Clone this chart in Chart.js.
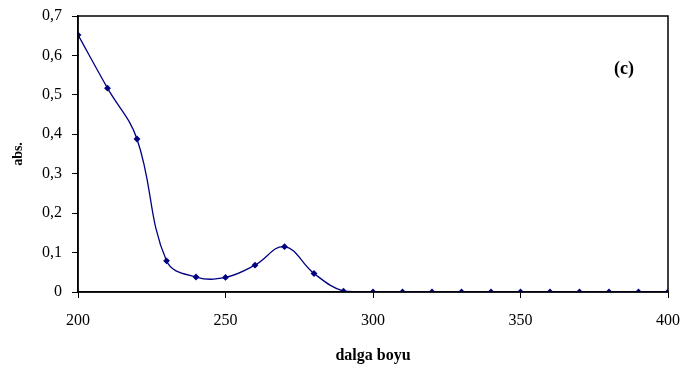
<!DOCTYPE html>
<html><head><meta charset="utf-8">
<script src="https://cdn.jsdelivr.net/npm/chart.js@4/dist/chart.umd.min.js"></script>
<style>html,body{margin:0;padding:0;background:#fff}#wrap{width:686px;height:374px}</style>
</head><body><div id="wrap"><canvas id="c" width="686" height="374"></canvas></div>
<script>
const wavelengths = [200,210,220,230,240,250,260,270,280,290,300,310,320,330,340,350,360,370,380,390,400];
const absValues = [0.652,0.517,0.388,0.079,0.038,0.037,0.068,0.115,0.047,0.002,0,0,0,0,0,0,0,0,0,0,0];
const xTicks = [200,250,300,350,400];
const yTicks = [0,0.1,0.2,0.3,0.4,0.5,0.6,0.7];
const panelLabel = '(c)';

const FONT = '"Liberation Serif","Times New Roman",serif';
const frame = {
  id:'frame',
  afterDraw(chart){
    const {ctx, chartArea:a} = chart;
    ctx.save();
    ctx.strokeStyle='#000'; ctx.lineWidth=1.5;
    ctx.strokeRect(a.left, a.top, a.right-a.left, a.bottom-a.top);
    ctx.fillStyle='#000'; ctx.font='bold 18px '+FONT;
    ctx.textAlign='center'; ctx.textBaseline='middle';
    ctx.fillText(panelLabel, 624, 69);
    ctx.restore();
  }
};
new Chart(document.getElementById('c'), {
  type:'scatter',
  data:{datasets:[{
    data: wavelengths.map((w,i)=>({x:w,y:absValues[i]})),
    showLine:true, borderColor:'#000080', backgroundColor:'#000080',
    borderWidth:1.3, tension:0.4, pointStyle:'rectRot', pointRadius:2.5, pointHoverRadius:2.5
  }]},
  options:{
    responsive:false, animation:false, devicePixelRatio:1,
    layout:{padding:{top:16,right:18,left:0,bottom:0}},
    plugins:{legend:{display:false},tooltip:{enabled:false}},
    scales:{
      x:{type:'linear',min:200,max:400,
        afterBuildTicks(s){s.ticks=xTicks.map(v=>({value:v}));},
        afterFit(s){s.height=82;s.paddingLeft=0;s.paddingRight=0;},
        grid:{drawOnChartArea:false,tickLength:6,color:'#000',lineWidth:1},
        border:{color:'#000',width:1.5},
        ticks:{color:'#000',font:{family:FONT,size:16},padding:13,maxRotation:0},
        title:{display:true,text:'dalga boyu',color:'#000',font:{family:FONT,size:16,weight:'bold'},padding:{top:4,bottom:9}}
      },
      y:{type:'linear',min:0,max:0.7,
        afterBuildTicks(s){s.ticks=yTicks.map(v=>({value:v}));},
        afterFit(s){s.width=78;s.paddingTop=0;s.paddingBottom=0;},
        grid:{drawOnChartArea:false,tickLength:6,color:'#000',lineWidth:1},
        border:{color:'#000',width:1.5},
        ticks:{color:'#000',font:{family:FONT,size:16},padding:10,
          callback:v=>v===0?'0':v.toFixed(1).replace('.',',')},
        title:{display:true,text:'abs.',color:'#000',font:{family:FONT,size:14,weight:'bold'},padding:{top:10,bottom:4}}
      }
    }
  },
  plugins:[frame]
});
</script></body></html>
